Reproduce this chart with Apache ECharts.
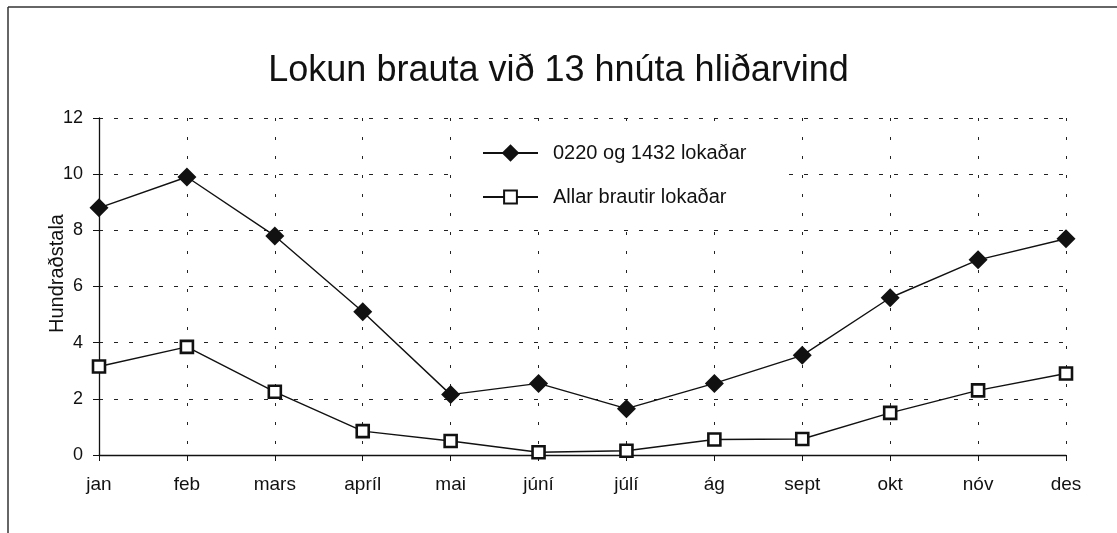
<!DOCTYPE html>
<html>
<head>
<meta charset="utf-8">
<script src="https://cdn.jsdelivr.net/npm/echarts@6/dist/echarts.min.js"></script>
<style>
  html, body { margin: 0; padding: 0; background: #fff; }
  #chart { width: 1117px; height: 533px; }
</style>
</head>
<body>
<div id="chart"></div>
<script>
  // gögn
  var months = ['jan', 'feb', 'mars', 'apríl', 'mai', 'júní', 'júlí', 'ág', 'sept', 'okt', 'nóv', 'des'];
  var yTicks = [0, 2, 4, 6, 8, 10, 12];
  var runwaysClosed = [8.8, 9.9, 7.8, 5.1, 2.15, 2.55, 1.65, 2.55, 3.55, 5.6, 6.95, 7.7];
  var allClosed = [3.15, 3.85, 2.25, 0.85, 0.5, 0.1, 0.15, 0.55, 0.57, 1.5, 2.3, 2.9];
  var seriesNames = ['0220 og 1432 lokaðar', 'Allar brautir lokaðar'];

  var font = 'Liberation Sans, Arial, Helvetica, sans-serif';
  var myChart = echarts.init(document.getElementById('chart'));

  var legendText = { color: '#111', fontFamily: font, fontSize: 20, padding: [0, 0, 0, 10] };

  var option = {
    backgroundColor: '#fff',
    animation: false,
    title: {
      text: 'Lokun brauta við 13 hnúta hliðarvind',
      left: 'center',
      top: 48,
      textStyle: { color: '#111', fontFamily: font, fontWeight: 'normal', fontSize: 36 }
    },
    // tvær skýringar svo táknin fái hvort sína stærð
    legend: [
      {
        orient: 'vertical',
        left: 455,
        top: 130,
        padding: [13, 30, 8, 27],
        backgroundColor: '#fff',
        itemWidth: 55,
        itemHeight: 22,
        textStyle: legendText,
        data: [seriesNames[0]]
      },
      {
        orient: 'vertical',
        left: 455,
        top: 173,
        padding: [14, 55, 15, 27],
        backgroundColor: '#fff',
        itemWidth: 55,
        itemHeight: 16,
        textStyle: legendText,
        data: [seriesNames[1]]
      }
    ],
    grid: { left: 99, right: 51, top: 118, bottom: 78 },
    xAxis: {
      type: 'category',
      boundaryGap: false,
      data: months,
      axisLine: { lineStyle: { color: '#111', width: 1.3 } },
      axisTick: { show: true, length: 6, lineStyle: { color: '#111' } },
      axisLabel: { color: '#111', fontFamily: font, fontSize: 19, margin: 20 },
      splitLine: { show: true, lineStyle: { color: '#222', type: [3, 16], width: 1 } }
    },
    yAxis: {
      type: 'value',
      min: yTicks[0],
      max: yTicks[yTicks.length - 1],
      interval: 2,
      name: 'Hundraðstala',
      nameLocation: 'middle',
      nameGap: 32,
      nameMoveOverlap: false,
      nameTextStyle: { color: '#111', fontFamily: font, fontSize: 20, padding: [0, 0, 0, 26] },
      axisLine: { show: true, lineStyle: { color: '#111', width: 1.3 } },
      axisTick: { show: true, length: 6, lineStyle: { color: '#111' } },
      axisLabel: { color: '#111', fontFamily: font, fontSize: 18, margin: 16 },
      splitLine: { show: true, lineStyle: { color: '#222', type: [4, 11], width: 1 } }
    },
    series: [
      {
        name: seriesNames[0],
        type: 'line',
        data: runwaysClosed,
        symbol: 'diamond',
        symbolSize: 19,
        lineStyle: { color: '#111', width: 1.4 },
        itemStyle: { color: '#111' }
      },
      {
        name: seriesNames[1],
        type: 'line',
        data: allClosed,
        symbol: 'rect',
        symbolSize: 12,
        lineStyle: { color: '#111', width: 1.4 },
        itemStyle: { color: '#fff', borderColor: '#111', borderWidth: 2.6 }
      }
    ],
    graphic: [
      { type: 'line', shape: { x1: 8, y1: 7, x2: 1117, y2: 7 }, style: { stroke: '#333', lineWidth: 1.5 } },
      { type: 'line', shape: { x1: 8, y1: 7, x2: 8, y2: 533 }, style: { stroke: '#333', lineWidth: 1.5 } }
    ]
  };

  myChart.setOption(option);
</script>
</body>
</html>
